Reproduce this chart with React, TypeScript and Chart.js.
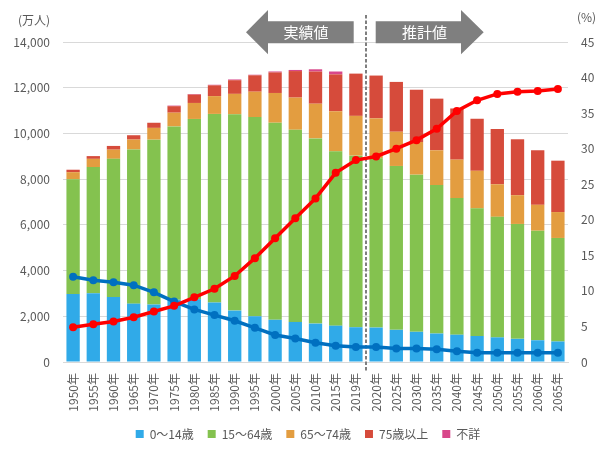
import React, { useEffect, useRef } from 'react';
import { Chart, registerables } from 'chart.js';

Chart.register(...registerables);

const years = [
  '1950年', '1955年', '1960年', '1965年', '1970年', '1975年', '1980年', '1985年', '1990年', '1995年',
  '2000年', '2005年', '2010年', '2015年', '2019年', '2020年', '2025年', '2030年', '2035年', '2040年',
  '2045年', '2050年', '2055年', '2060年', '2065年',
];
const lastActual = '2019年';

// 万人
const age0to14 = [2979, 3012, 2843, 2553, 2515, 2722, 2751, 2603, 2249, 2001, 1847, 1752, 1680, 1589, 1521, 1507, 1407, 1321, 1246, 1194, 1138, 1077, 1012, 951, 898];
const age15to64 = [5017, 5517, 6047, 6744, 7212, 7584, 7883, 8251, 8590, 8716, 8622, 8409, 8103, 7629, 7507, 7406, 7170, 6875, 6494, 5978, 5584, 5275, 5028, 4793, 4529];
const age65to74 = [309, 359, 400, 435, 516, 602, 699, 779, 892, 1109, 1301, 1407, 1517, 1752, 1740, 1747, 1497, 1428, 1522, 1681, 1643, 1424, 1258, 1133, 1133];
const age75plus = [107, 120, 163, 189, 224, 284, 366, 471, 597, 717, 900, 1160, 1407, 1613, 1849, 1872, 2180, 2288, 2260, 2239, 2277, 2417, 2446, 2387, 2248];
const unknownAge = [0, 0, 0, 0, 0, 25, 25, 25, 33, 25, 40, 49, 99, 126, 0, 0, 0, 0, 0, 0, 0, 0, 0, 0, 0];

// %
const agingRate = [4.9, 5.3, 5.7, 6.3, 7.1, 7.9, 9.1, 10.3, 12.1, 14.6, 17.4, 20.2, 23.0, 26.6, 28.4, 28.9, 30.0, 31.2, 32.8, 35.3, 36.8, 37.7, 38.0, 38.1, 38.4];
const supportRatio = [12.0, 11.5, 11.2, 10.8, 9.8, 8.5, 7.4, 6.6, 5.8, 4.8, 3.8, 3.3, 2.7, 2.3, 2.1, 2.1, 1.9, 1.9, 1.8, 1.5, 1.3, 1.3, 1.3, 1.3, 1.3];

const FONT = '"Noto Sans CJK JP", "Noto Sans", sans-serif';
const TEXT = '#595959';
const GRID = '#d9d9d9';

const markers = {
  id: 'markers',
  beforeDatasetsDraw(chart) {
    const { ctx, chartArea, scales } = chart;
    const i = years.indexOf(lastActual);
    const d = (scales.x.getPixelForValue(i) + scales.x.getPixelForValue(i + 1)) / 2;
    ctx.save();
    ctx.strokeStyle = '#7f7f7f';
    ctx.lineWidth = 2;
    ctx.setLineDash([3.5, 2]);
    ctx.beginPath();
    ctx.moveTo(d, chartArea.top - 27);
    ctx.lineTo(d, chartArea.bottom + 9);
    ctx.stroke();
    ctx.restore();
  },
  afterDraw(chart) {
    const { ctx, chartArea, scales } = chart;
    const i = years.indexOf(lastActual);
    const d = (scales.x.getPixelForValue(i) + scales.x.getPixelForValue(i + 1)) / 2;
    const t = chartArea.top;
    ctx.save();
    ctx.fillStyle = '#7f7f7f';
    // left arrow (実績値)
    ctx.beginPath();
    ctx.moveTo(d - 120, t - 9.7);
    ctx.lineTo(d - 98, t - 32);
    ctx.lineTo(d - 98, t - 20.7);
    ctx.lineTo(d - 12.3, t - 20.7);
    ctx.lineTo(d - 12.3, t + 1.3);
    ctx.lineTo(d - 98, t + 1.3);
    ctx.lineTo(d - 98, t + 12.3);
    ctx.closePath();
    ctx.fill();
    // right arrow (推計値)
    ctx.beginPath();
    ctx.moveTo(d + 117.7, t - 9.7);
    ctx.lineTo(d + 95, t - 32);
    ctx.lineTo(d + 95, t - 20.7);
    ctx.lineTo(d + 9.7, t - 20.7);
    ctx.lineTo(d + 9.7, t + 1.3);
    ctx.lineTo(d + 95, t + 1.3);
    ctx.lineTo(d + 95, t + 12.3);
    ctx.closePath();
    ctx.fill();

    ctx.fillStyle = '#ffffff';
    ctx.font = `15px ${FONT}`;
    ctx.textAlign = 'center';
    ctx.textBaseline = 'middle';
    ctx.fillText('実績値', d - 60, t - 9.5);
    ctx.fillText('推計値', d + 58.5, t - 9.5);

    // axis units
    ctx.fillStyle = TEXT;
    ctx.font = `12px ${FONT}`;
    ctx.textAlign = 'right';
    ctx.fillText('(万人)', scales.y.right - 13, t - 21.5);
    ctx.textAlign = 'left';
    ctx.fillText('(%)', scales.y1.left + 9, t - 25);
    ctx.restore();
  },
};

const barSet = (label, data, color) => ({
  type: 'bar',
  label,
  data,
  backgroundColor: color,
  borderWidth: 0,
  yAxisID: 'y',
  order: 2,
  barPercentage: 0.66,
  categoryPercentage: 1,
});

const lineSet = (label, data, color, order) => ({
  type: 'line',
  label,
  data,
  borderColor: color,
  backgroundColor: color,
  borderWidth: 3.5,
  pointRadius: 4,
  pointBorderWidth: 0,
  pointBackgroundColor: color,
  yAxisID: 'y1',
  order,
});

const App = () => {
  const canvasRef = useRef<HTMLCanvasElement | null>(null);
  const chartRef = useRef<Chart | null>(null);

  useEffect(() => {
    const ctx = canvasRef.current?.getContext('2d');
    if (!ctx) return;
    Chart.defaults.font.family = FONT;
    Chart.defaults.color = TEXT;

    chartRef.current = new Chart(ctx, {
      type: 'bar',
      data: {
        labels: years,
        datasets: [
          barSet('0〜14歳', age0to14, '#30aae8'),
          barSet('15〜64歳', age15to64, '#84c24f'),
          barSet('65〜74歳', age65to74, '#e39d40'),
          barSet('75歳以上', age75plus, '#d64b3b'),
          barSet('不詳', unknownAge, '#d8478a'),
          lineSet('65歳以上人口割合', agingRate, '#ff0000', 0),
          lineSet('現役世代人数', supportRatio, '#0070c0', 1),
        ],
      },
      options: {
        responsive: false,
        animation: false,
        layout: { padding: { top: 42, left: 0, right: 0, bottom: 4 } },
        plugins: {
          tooltip: { enabled: false },
          legend: {
            position: 'bottom',
            labels: {
              boxWidth: 8,
              boxHeight: 8,
              padding: 14,
              color: TEXT,
              font: { size: 12, family: FONT },
              filter: (item, data) => data.datasets[item.datasetIndex].type === 'bar',
            },
          },
        },
        scales: {
          x: {
            stacked: true,
            grid: { display: false, drawTicks: false },
            border: { display: true, color: GRID },
            ticks: {
              autoSkip: false,
              minRotation: 90,
              maxRotation: 90,
              padding: 11,
              color: TEXT,
              font: { size: 12 },
            },
            afterFit: (s) => { s.height = 52; },
          },
          y: {
            stacked: true,
            position: 'left',
            min: 0,
            max: 14000,
            grid: { color: GRID, drawTicks: false },
            border: { display: false },
            ticks: {
              stepSize: 2000,
              padding: 13,
              color: TEXT,
              font: { size: 12 },
              callback: (v) => Number(v).toLocaleString('en-US'),
            },
            afterFit: (s) => { s.width = 63; },
          },
          y1: {
            position: 'right',
            min: 0,
            max: 45,
            grid: { display: false, drawTicks: false },
            border: { display: false },
            ticks: { stepSize: 5, padding: 13, color: TEXT, font: { size: 12 } },
            afterFit: (s) => { s.width = 48; },
          },
        },
      },
      plugins: [markers],
    });

    return () => {
      chartRef.current?.destroy();
    };
  }, []);

  return (
    <div style={{ position: 'absolute', left: 0, top: 0, width: 616, height: 454, background: '#fff' }}>
      <canvas ref={canvasRef} width={616} height={454} />
    </div>
  );
};

export default App;
